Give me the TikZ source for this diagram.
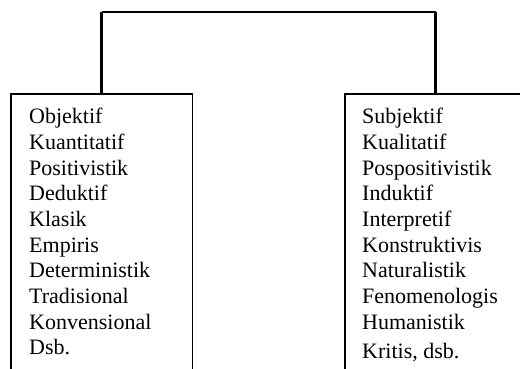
\documentclass[tikz,border=0pt]{standalone}
\usepackage{fontspec}
\setmainfont{Liberation Serif}
\usepackage{tikz}
\usetikzlibrary{positioning}

\tikzset{
  kotak/.style={minimum width=181pt, minimum height=300pt, inner sep=0pt},
  daftar/.style={align=left, inner sep=0pt, anchor=north west, font=\fontsize{22}{25.7}\selectfont},
  garis/.style={line width=1.4pt},
  tegak/.style={line width=2.4pt},
  datar/.style={line width=1.6pt}
}

\begin{document}
\begin{tikzpicture}[x=1pt,y=-1pt]
\useasboundingbox (0,0) rectangle (520,369);
\clip (0,0) rectangle (520,369);
\node[kotak, anchor=north] (kiri) at (101.5,94) {};
\node[kotak, anchor=north] (kanan) at (435.5,94) {};
\draw[garis] (kiri.south west) |- (kiri.north east) -- (kiri.south east);
\draw[garis] (kanan.south west) |- (kanan.north east) -- (kanan.south east);
\node[daftar] (isiKiri) at (29,108)
{Objektif\\Kuantitatif\\Positivistik\\Deduktif\\Klasik\\Empiris\\Deterministik\\Tradisional\\Konvensional\\Dsb.};
\node[daftar] (isiKanan) at (362,108)
{Subjektif\\Kualitatif\\Pospositivistik\\Induktif\\Interpretif\\Konstruktivis\\Naturalistik\\Fenomenologis\\Humanistik\\[4pt]Kritis, dsb.};
\path (kiri.north) ++(0,-82) coordinate (atasKiri);
\draw[tegak] (kiri.north) -- (atasKiri);
\draw[tegak] (kanan.north) -- (atasKiri -| kanan.north);
\draw[datar] (atasKiri) -- (atasKiri -| kanan.north);
\end{tikzpicture}
\end{document}
